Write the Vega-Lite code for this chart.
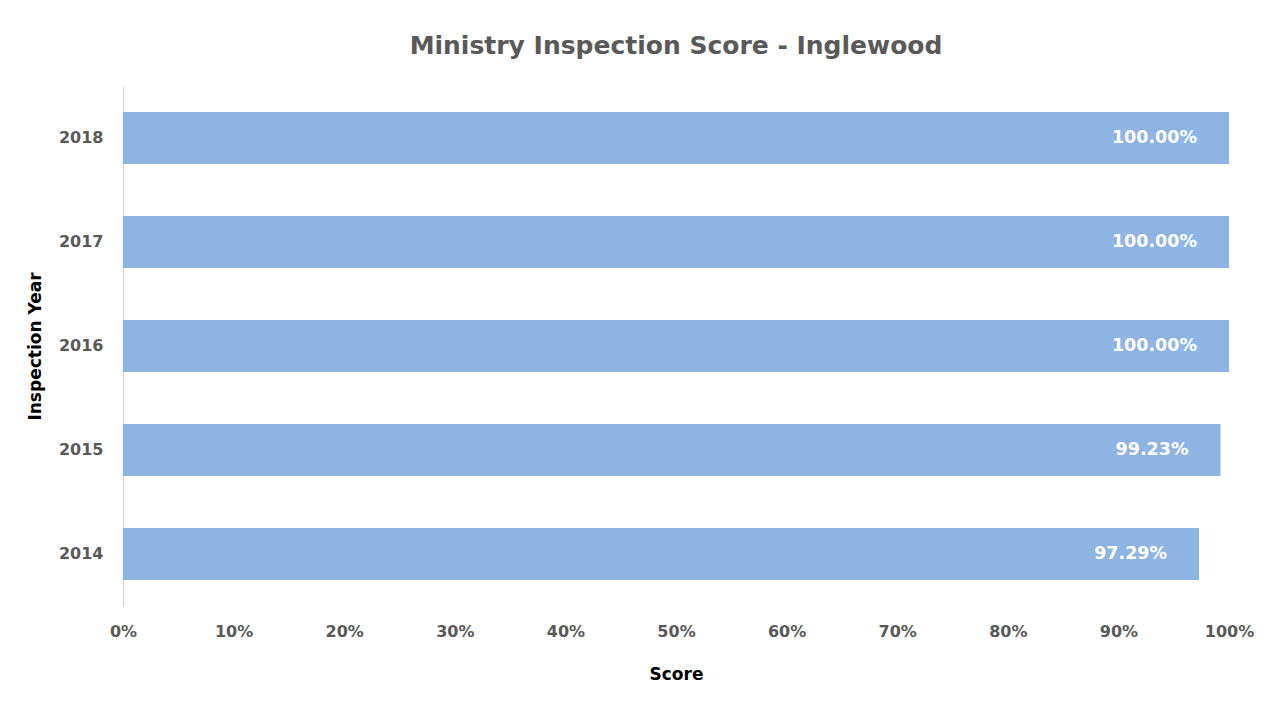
{
  "$schema": "https://vega.github.io/schema/vega-lite/v6.json",
  "width": 1106,
  "height": 520,
  "autosize": "none",
  "padding": {"left": 123, "top": 86, "right": 47, "bottom": 113},
  "background": "white",
  "title": {
    "text": "Ministry Inspection Score - Inglewood",
    "font": "DejaVu Sans",
    "fontSize": 25,
    "fontWeight": 700,
    "color": "#595959",
    "anchor": "middle",
    "offset": 27
  },
  "config": {
    "view": {"stroke": null},
    "font": "DejaVu Sans"
  },
  "data": {
    "values": [
      {"year": "2018", "score": 1.0, "label": "100.00%"},
      {"year": "2017", "score": 1.0, "label": "100.00%"},
      {"year": "2016", "score": 1.0, "label": "100.00%"},
      {"year": "2015", "score": 0.9923, "label": "99.23%"},
      {"year": "2014", "score": 0.9729, "label": "97.29%"}
    ]
  },
  "encoding": {
    "y": {
      "field": "year",
      "type": "nominal",
      "sort": "descending",
      "scale": {"paddingInner": 0.5, "paddingOuter": 0.25},
      "axis": {
        "title": "Inspection Year",
        "titleFont": "DejaVu Sans",
        "titleFontSize": 17,
        "titleFontWeight": 700,
        "titleColor": "#000000",
        "titlePadding": 14,
        "labelFont": "DejaVu Sans",
        "labelFontSize": 16,
        "labelFontWeight": 700,
        "labelColor": "#595959",
        "labelPadding": 20,
        "ticks": false,
        "domainColor": "#d9d9d9",
        "domainWidth": 1.5
      }
    },
    "x": {
      "field": "score",
      "type": "quantitative",
      "scale": {"domain": [0, 1], "nice": false},
      "axis": {
        "title": "Score",
        "titleFont": "DejaVu Sans",
        "titleFontSize": 17,
        "titleFontWeight": 700,
        "titleColor": "#000000",
        "titlePadding": 27,
        "format": ".0%",
        "values": [0, 0.1, 0.2, 0.3, 0.4, 0.5, 0.6, 0.7, 0.8, 0.9, 1.0],
        "labelFont": "DejaVu Sans",
        "labelFontSize": 16,
        "labelFontWeight": 700,
        "labelColor": "#595959",
        "labelPadding": 17,
        "labelFlush": false,
        "ticks": false,
        "domain": false,
        "grid": false
      }
    }
  },
  "layer": [
    {"mark": {"type": "bar", "color": "#8EB4E3"}},
    {
      "mark": {
        "type": "text",
        "align": "right",
        "baseline": "middle",
        "dx": -32,
        "color": "white",
        "font": "DejaVu Sans",
        "fontSize": 17.5,
        "fontWeight": 700
      },
      "encoding": {"text": {"field": "label"}}
    }
  ]
}
